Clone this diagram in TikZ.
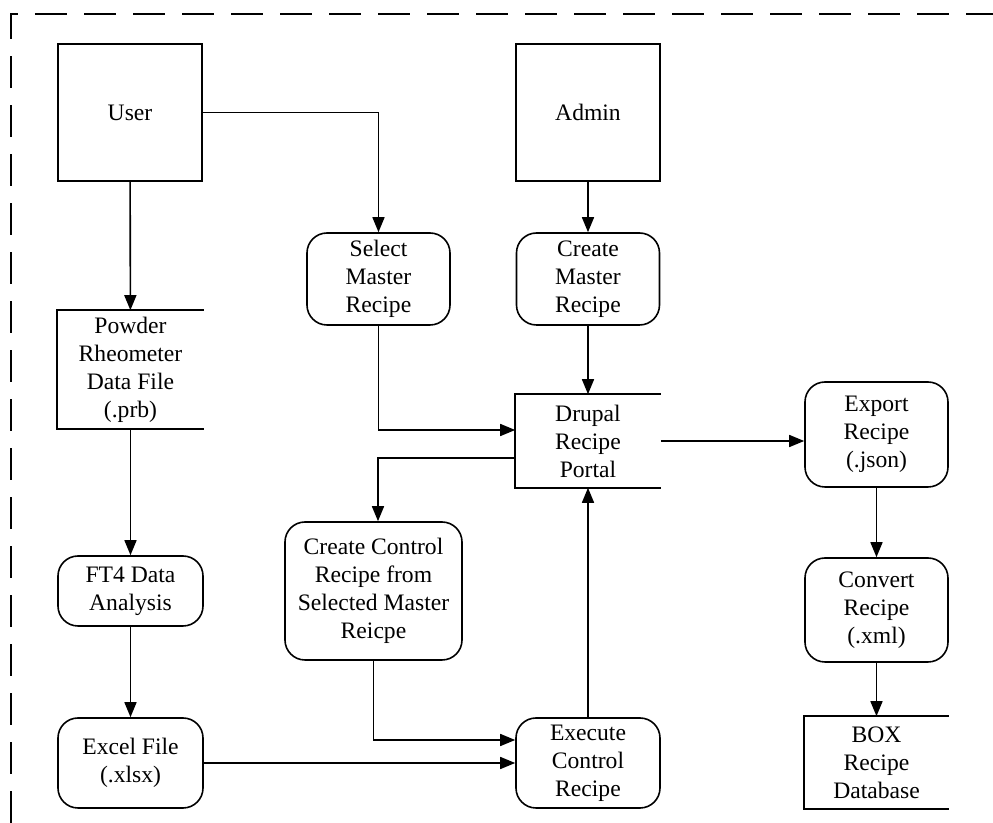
\documentclass[tikz,border=0pt]{standalone}
\usepackage{fontspec}
\setmainfont{Liberation Serif}
\usepackage{tikz}
\usetikzlibrary{arrows.meta}

\begin{document}
\begin{tikzpicture}[
  x=0.5pt, y=-0.5pt,
  >={Triangle[length=7.5pt, width=6pt]},
  line width=0.8pt,
  font=\fontsize{11.8}{14}\selectfont,
  actor/.style={
    rectangle, draw, align=center,
    inner sep=0pt, minimum width=72pt, minimum height=68.5pt
  },
  proc/.style={
    rectangle, rounded corners=10pt, draw, align=center,
    inner sep=0pt, minimum width=71.5pt
  },
  store/.style={
    rectangle, align=center,
    inner sep=0pt, minimum width=72.5pt
  }
]
  \useasboundingbox (0,0) rectangle (993,823);
  \draw[line width=1pt, dash pattern=on 16pt off 8.5pt] (11,823)--(11,14)--(993,14);

  \node[actor] (user) at (130,112.5){User};
  \node[actor] (admin) at (588,112.5){Admin};
  \node[proc, minimum height=46pt] (sel) at (378.5,279){Select\\Master\\Recipe};
  \node[proc, minimum height=46pt] (cmr) at (588,279){Create\\Master\\Recipe};
  \node[store, minimum height=58.5pt] (prb) at (130.5,369.5){Powder\\Rheometer\\Data File\\(.prb)};
  \node[store, minimum width=72pt, minimum height=46pt] (drupal) at (588,441){Drupal\\Recipe\\Portal};
  \node[proc, minimum height=52.5pt] (export) at (876.5,434.5){Export\\Recipe\\(.json)};
  \node[proc, minimum width=72.5pt, minimum height=35pt] (ft4) at (130.5,591){FT4 Data\\Analysis};
  \node[proc, minimum width=88.5pt, minimum height=69pt] (ccr) at (373.5,591){Create Control\\Recipe from\\Selected Master\\Reicpe};
  \node[proc, minimum height=52pt] (convert) at (876.5,610){Convert\\Recipe\\(.xml)};
  \node[proc, minimum width=72.5pt, minimum height=45pt] (excel) at (130.5,763){Excel File\\(.xlsx)};
  \node[proc, minimum width=72pt, minimum height=45pt] (exec) at (588,763){Execute\\Control\\Recipe};
  \node[store, minimum width=71.5pt, minimum height=45.5pt] (box) at (876.5,762.5){BOX\\Recipe\\Database};

  \draw (prb.north east)--(prb.north west)--(prb.south west)--(prb.south east);
  \draw (drupal.north east)--(drupal.north west)--(drupal.south west)--(drupal.south east);
  \draw (box.north east)--(box.north west)--(box.south west)--(box.south east);

  \draw[->] (user.east) -| (sel.north);
  \draw[->] (user)--(prb);
  \draw[->] (admin)--(cmr);
  \draw[->] (cmr)--(drupal);
  \draw[->] (sel.south) |- ([yshift=5.5pt]drupal.west);
  \draw[->] ([yshift=-8.5pt]drupal.west) -| ([xshift=2.25pt]ccr.north);
  \draw[->] (drupal.east)--(drupal.east -| export.west);
  \draw[->] (prb)--(ft4);
  \draw[->] (ft4)--(excel);
  \draw[->] (excel)--(exec);
  \draw[->] (ccr.south) |- ([yshift=11.5pt]exec.west);
  \draw[->] (exec)--(drupal);
  \draw[->] (export)--(convert);
  \draw[->] (convert)--(box);
\end{tikzpicture}
\end{document}
